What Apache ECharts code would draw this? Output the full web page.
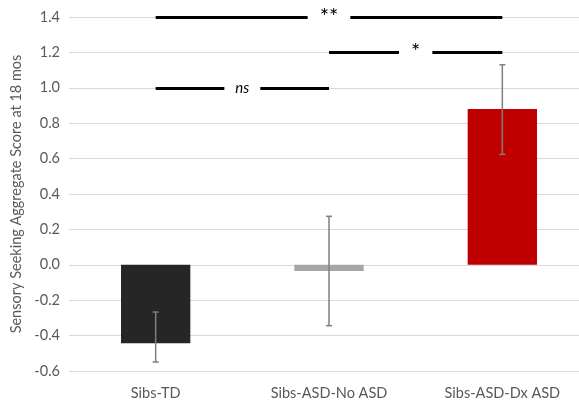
<!DOCTYPE html>
<html>
<head>
<meta charset="utf-8">
<script src="https://cdn.jsdelivr.net/npm/echarts@6/dist/echarts.min.js"></script>
<style>
  html, body { margin: 0; padding: 0; background: #fff; }
  #chart { width: 579px; height: 405px; }
</style>
</head>
<body>
<div id="chart"></div>
<script>
// Group means and error-bar ranges
const groups = ['Sibs-TD', 'Sibs-ASD-No ASD', 'Sibs-ASD-Dx ASD'];
const means = [-0.443, -0.035, 0.880];
const errLow = [-0.549, -0.344, 0.624];
const errHigh = [-0.267, 0.274, 1.130];
const barColors = ['#262626', '#a6a6a6', '#c00000'];

// Pairwise comparisons: [from group, to group, y level, label]
const comparisons = [
  [0, 2, 1.4, '**'],
  [1, 2, 1.2, '*'],
  [0, 1, 1.0, 'ns']
];

const yTicks = { min: -0.6, max: 1.4, interval: 0.2 };
const fontFamily = 'Lato, "Open Sans", sans-serif';

const chart = echarts.init(document.getElementById('chart'));

// Asterisks sit high in the em box, so they get a larger size and extra top padding
function compLabel(text) {
  const isNs = text === 'ns';
  return {
    show: true,
    position: 'insideMiddle',
    formatter: text,
    color: '#000',
    fontSize: isNs ? 15 : 22,
    fontFamily: fontFamily,
    fontStyle: isNs ? 'italic' : 'normal',
    backgroundColor: '#fff',
    padding: isNs ? [3, 11, 1, 11] : [10, 12, 0, 12]
  };
}

const compLines = comparisons.map(c => ([
  { coord: [groups[c[0]], c[2]], label: compLabel(c[3]) },
  { coord: [groups[c[1]], c[2]] }
]));

chart.setOption({
  animation: false,
  grid: { left: 69, top: 17, width: 520, height: 354, outerBoundsMode: 'none', containLabel: false },
  xAxis: {
    type: 'category',
    data: groups,
    axisLine: { show: false },
    axisTick: { show: false },
    axisLabel: {
      color: '#595959',
      fontSize: 14.5,
      fontFamily: fontFamily,
      margin: 15
    }
  },
  yAxis: {
    type: 'value',
    min: yTicks.min,
    max: yTicks.max,
    interval: yTicks.interval,
    name: 'Sensory Seeking Aggregate Score at 18 mos',
    nameLocation: 'middle',
    nameGap: 45,
    nameTextStyle: { color: '#595959', fontSize: 14.5, fontFamily: fontFamily },
    axisLine: { show: false },
    axisTick: { show: false },
    axisLabel: {
      color: '#595959',
      fontSize: 14.5,
      fontFamily: fontFamily,
      margin: 9,
      formatter: v => v.toFixed(1)
    },
    splitLine: { lineStyle: { color: '#d9d9d9', width: 1 } }
  },
  series: [
    {
      type: 'bar',
      barWidth: '40%',
      data: means.map((v, i) => ({ value: v, itemStyle: { color: barColors[i] } })),
      markLine: {
        symbol: ['none', 'none'],
        silent: true,
        lineStyle: { color: '#000', width: 3, type: 'solid' },
        data: compLines
      }
    },
    {
      type: 'custom',
      z: 5,
      data: groups.map((g, i) => [i, errLow[i], errHigh[i]]),
      renderItem: (params, api) => {
        const x = api.value(0);
        const lo = api.coord([x, api.value(1)]);
        const hi = api.coord([x, api.value(2)]);
        const cap = 3;
        const style = { stroke: '#7f7f7f', lineWidth: 1.5 };
        return {
          type: 'group',
          children: [
            { type: 'line', shape: { x1: lo[0], y1: lo[1], x2: hi[0], y2: hi[1] }, style },
            { type: 'line', shape: { x1: lo[0] - cap, y1: lo[1], x2: lo[0] + cap, y2: lo[1] }, style },
            { type: 'line', shape: { x1: hi[0] - cap, y1: hi[1], x2: hi[0] + cap, y2: hi[1] }, style }
          ]
        };
      }
    }
  ]
});
</script>
</body>
</html>
